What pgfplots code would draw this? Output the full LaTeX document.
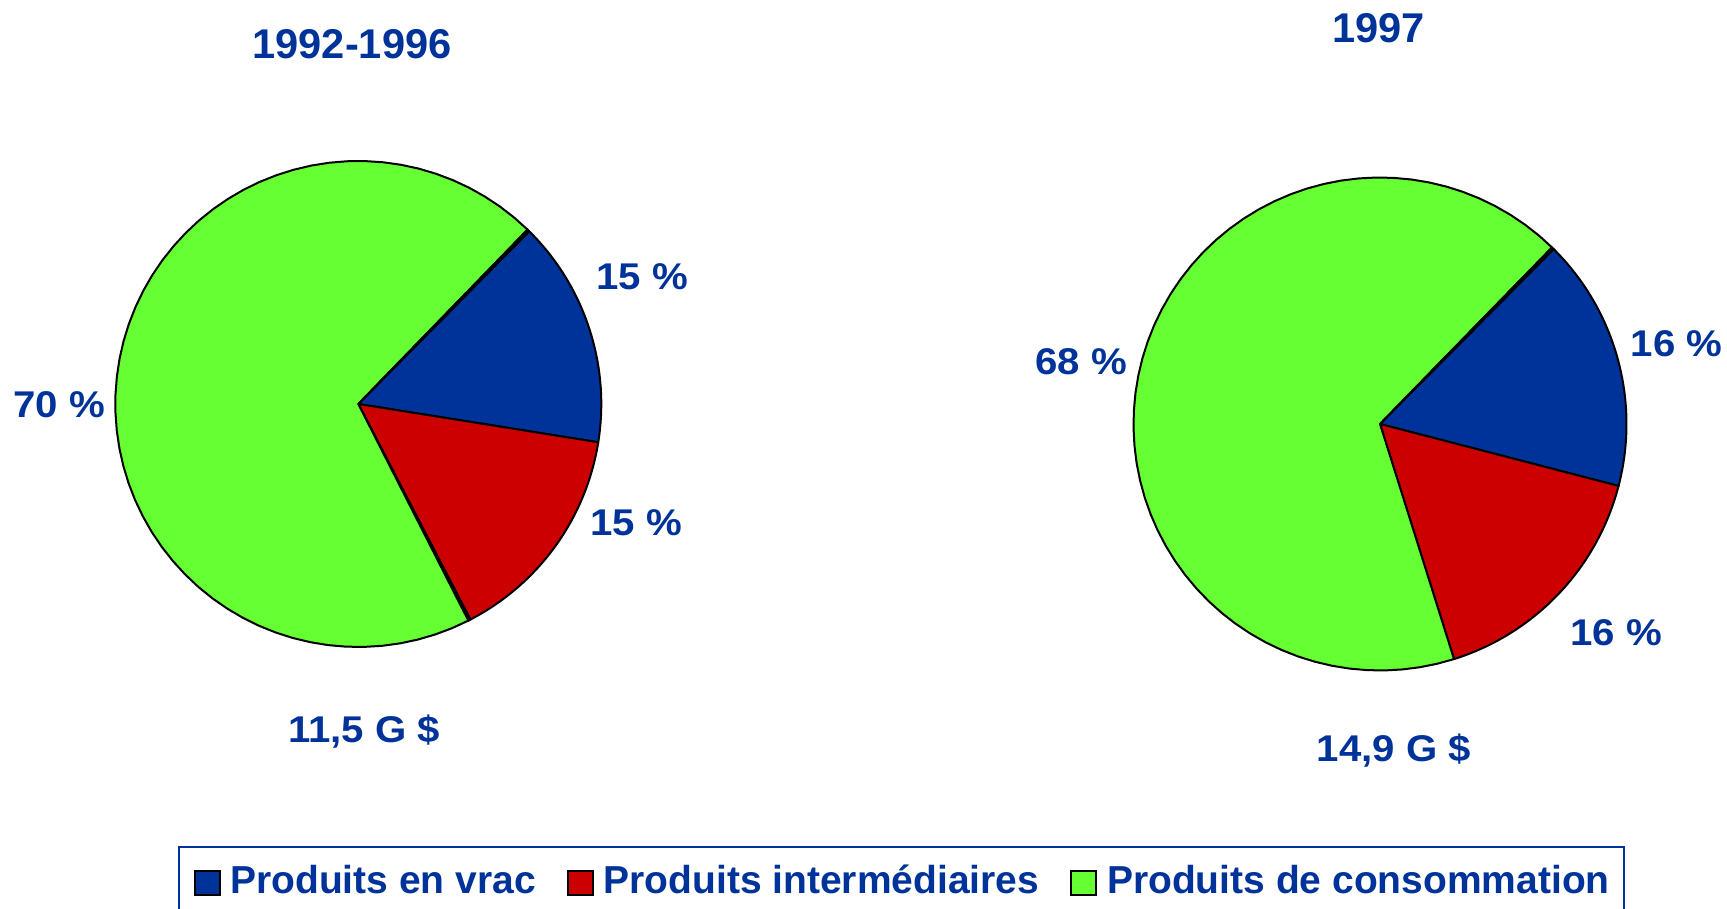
\documentclass[border=0pt]{standalone}
\usepackage{pgfplots}
\pgfplotsset{compat=1.18}
\usepackage{pgfplotstable}
\usepackage{graphicx}
\usepackage{fontspec}
\setmainfont{Liberation Sans}
\definecolor{cblue}{RGB}{0,51,153}
\definecolor{cvrac}{RGB}{0,51,153}
\definecolor{cinter}{RGB}{204,0,0}
\definecolor{cconso}{RGB}{102,255,51}
\definecolor{csliver}{RGB}{190,190,190}

% shares (%) in clockwise order starting at the top-right boundary
\pgfplotstableread{
value
15.1
14.85
0.15
69.75
0.15
}\pieA
\pgfplotstableread{
value
16.6
16.1
67.15
0.15
}\pieB

\newcommand{\slice}[6]{%
  \addplot[forget plot, fill=#6, draw=black, line width=0.5pt, line join=round,
    domain=#5:#4, samples=60] ({#1+#3*cos(x)},{#2+#3*sin(x)}) -- (axis cs:#1,#2) -- cycle;
}
\newcommand{\lbl}[3]{\node[anchor=base, text=cblue, font=\fontsize{9.3}{11}\selectfont\bfseries] at (axis cs:#1,#2) {\scalebox{1.08}[1]{#3}};}

\begin{document}
\begin{tikzpicture}
\useasboundingbox (0,0) rectangle (431.75pt,227.25pt);
% angles for pie A
\pgfplotstablegetelem{0}{value}\of\pieA \let\vAa\pgfplotsretval
\pgfplotstablegetelem{1}{value}\of\pieA \let\vAb\pgfplotsretval
\pgfplotstablegetelem{2}{value}\of\pieA \let\vAc\pgfplotsretval
\pgfplotstablegetelem{3}{value}\of\pieA \let\vAd\pgfplotsretval
\pgfplotstablegetelem{4}{value}\of\pieA \let\vAe\pgfplotsretval
\pgfmathsetmacro\tA{45.3}
\pgfmathsetmacro\tB{\tA-3.6*\vAa}
\pgfmathsetmacro\tC{\tB-3.6*\vAb}
\pgfmathsetmacro\tD{\tC-3.6*\vAc}
\pgfmathsetmacro\tE{\tD-3.6*\vAd}
\pgfmathsetmacro\tF{\tE-3.6*\vAe}
% angles for pie B
\pgfplotstablegetelem{0}{value}\of\pieB \let\vBa\pgfplotsretval
\pgfplotstablegetelem{1}{value}\of\pieB \let\vBb\pgfplotsretval
\pgfplotstablegetelem{2}{value}\of\pieB \let\vBc\pgfplotsretval
\pgfplotstablegetelem{3}{value}\of\pieB \let\vBd\pgfplotsretval
\pgfmathsetmacro\sA{45.2}
\pgfmathsetmacro\sB{\sA-3.6*\vBa}
\pgfmathsetmacro\sC{\sB-3.6*\vBb}
\pgfmathsetmacro\sD{\sC-3.6*\vBc}
\pgfmathsetmacro\sE{\sD-3.6*\vBd}
\begin{axis}[
  width=431.75pt, height=227.25pt, scale only axis, hide axis,
  xmin=0, xmax=1727, ymin=0, ymax=909, clip=false,
  legend columns=3,
  legend cell align=left,
  legend style={at={(axis description cs:0.1031,0.0693)}, anchor=north west,
    draw=cblue, line width=0.6pt, inner xsep=3.6pt, inner ysep=4.4pt,
    font=\fontsize{9.75}{11}\selectfont\bfseries, text=cblue,
    nodes={inner sep=0pt},
    /tikz/every odd column/.append style={column sep=2.4pt},
    /tikz/every even column/.append style={column sep=7.8pt}},
]
% pie 1992-1996
\slice{358.3}{505}{243}{\tA}{\tB}{cvrac}
\slice{358.3}{505}{243}{\tB}{\tC}{cinter}
\slice{358.3}{505}{243}{\tC}{\tD}{csliver}
\slice{358.3}{505}{243}{\tD}{\tE}{cconso}
\slice{358.3}{505}{243}{\tE}{\tF}{csliver}
% pie 1997
\slice{1380}{485}{246.5}{\sA}{\sB}{cvrac}
\slice{1380}{485}{246.5}{\sB}{\sC}{cinter}
\slice{1380}{485}{246.5}{\sC}{\sD}{cconso}
\slice{1380}{485}{246.5}{\sD}{\sE}{csliver}

\addlegendimage{legend image code/.code={\draw[fill=cvrac,draw=black,line width=0.5pt] (0pt,-3.3pt) rectangle (6.25pt,2.7pt);}}
\addlegendentry{Produits en vrac}
\addlegendimage{legend image code/.code={\draw[fill=cinter,draw=black,line width=0.5pt] (0pt,-3.3pt) rectangle (6.25pt,2.7pt);}}
\addlegendentry{Produits intermédiaires}
\addlegendimage{legend image code/.code={\draw[fill=cconso,draw=black,line width=0.5pt] (0pt,-3.3pt) rectangle (6.25pt,2.7pt);}}
\addlegendentry{Produits de consommation}

% titles
\node[anchor=base, text=cblue, font=\fontsize{10.4}{12}\selectfont\bfseries] at (axis cs:352,850) {1992-1996};
\node[anchor=base, text=cblue, font=\fontsize{10.4}{12}\selectfont\bfseries] at (axis cs:1378.5,866.7) {1997};
% labels
\lbl{59}{491.3}{70 \%}
\lbl{642}{619}{15 \%}
\lbl{636}{373.5}{15 \%}
\lbl{364}{166.3}{11,5 G \$}
\lbl{1081}{534}{68 \%}
\lbl{1676.5}{552}{16 \%}
\lbl{1616}{263.5}{16 \%}
\lbl{1394}{147.5}{14,9 G \$}
\end{axis}
\end{tikzpicture}
\end{document}
